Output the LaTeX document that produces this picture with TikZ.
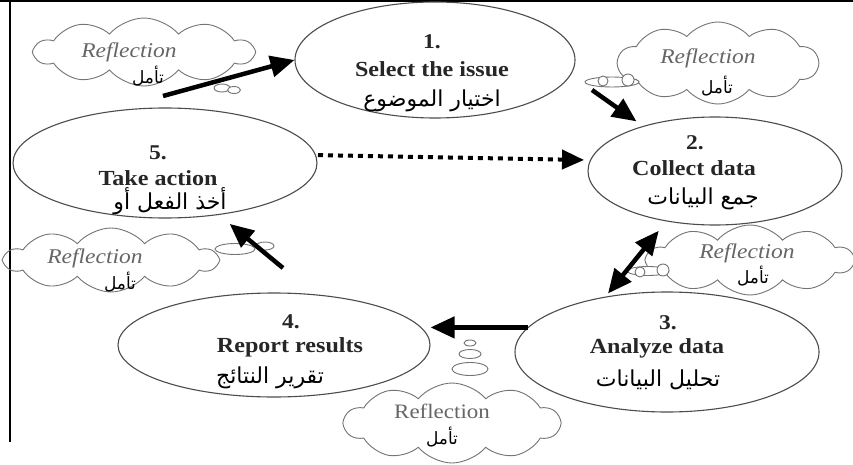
\documentclass[tikz,border=0pt]{standalone}
\usepackage{fontspec}
\setmainfont{Liberation Serif}[FakeStretch=1.12]
\newfontfamily\ar[Script=Arabic]{DejaVu Sans}
\TeXXeTstate=1
\usetikzlibrary{shapes.geometric,shapes.symbols,arrows.meta}
\begin{document}
\begin{tikzpicture}[x=1pt,y=-1pt,
  stage/.style={ellipse, draw=black!70, line width=1.1pt, inner sep=0pt},
  num/.style={font=\fontsize{21}{23}\selectfont\bfseries, text=black!85, inner sep=0pt},
  ttl/.style={font=\fontsize{21.5}{23}\selectfont\bfseries, text=black!85, inner sep=0pt},
  arb/.style={font=\ar\fontsize{22}{24}\selectfont, text=black, inner sep=0pt},
  arbs/.style={font=\ar\fontsize{17}{20}\selectfont, text=black, inner sep=0pt},
  thought/.style={cloud, cloud puffs=10, cloud puff arc=100, cloud ignores aspect, draw=black!55, line width=0.9pt, inner sep=0pt},
  bub/.style={ellipse, draw=black!55, line width=0.9pt, fill=white, inner sep=0pt},
  refl/.style={font=\fontsize{21}{23}\selectfont\itshape, text=black!60, inner sep=0pt},
  reflup/.style={font=\fontsize{20.5}{23}\selectfont, text=black!60, inner sep=0pt},
  arr/.style={line width=4.5pt, black, -{Triangle[length=24pt,width=21pt]}},
  darr/.style={line width=4.5pt, black, {Triangle[length=24pt,width=21pt]}-{Triangle[length=24pt,width=21pt]}},
  dotarr/.style={line width=4pt, black, dash pattern=on 5pt off 5pt, -{Triangle[length=22pt,width=19pt]}}]
\useasboundingbox (0,0) rectangle (853,465);
\fill[white] (0,0) rectangle (853,465);
% frame
\draw[line width=2pt] (0,1) -- (853,1);
\draw[line width=2pt] (10,0) -- (10,442);

% stages
\node[stage, minimum width=280pt, minimum height=116pt] (e1) at (435,60) {};
\node[stage, minimum width=254pt, minimum height=108pt] (e2) at (715,171) {};
\node[stage, minimum width=304pt, minimum height=120pt] (e3) at (667,352) {};
\node[stage, minimum width=312pt, minimum height=104pt] (e4) at (274,345) {};
\node[stage, minimum width=304pt, minimum height=110pt] (e5) at (165,163) {};

\node[num] (n1) at (432,42) {1.};
\node[ttl] (t1) at (432,69) {Select the issue};
\node[arb] (r1) at (432,101) {\beginR اختيار الموضوع\endR};

\node[num] (n2) at (695,143) {2.};
\node[ttl] (t2) at (694,168) {Collect data};
\node[arb] (r2) at (703,199) {\beginR جمع البيانات\endR};

\node[num] (n3) at (668,323) {3.};
\node[ttl] (t3) at (657,348) {Analyze data};
\node[arb] (r3) at (658,380) {\beginR تحليل البيانات\endR};

\node[num] (n4) at (291,322) {4.};
\node[ttl] (t4) at (290,347) {Report results};
\node[arb] (r4) at (270,378) {\beginR تقرير النتائج\endR};

\node[num] (n5) at (158,153) {5.};
\node[ttl] (t5) at (158,178) {Take action};
\node[arb] (r5) at (170,201) {\beginR أخذ الفعل أو\endR};

% clouds
\node[thought, minimum width=218pt, minimum height=68pt] (cA) at (144,52) {};
\node[thought, minimum width=200pt, minimum height=82pt] (cB) at (718,63) {};
\node[thought, minimum width=206pt, minimum height=70pt] (cC) at (750,260) {};
\node[thought, minimum width=212pt, minimum height=64pt] (cD) at (111,260) {};
\node[thought, minimum width=215pt, minimum height=80pt] (cE) at (452,423) {};

\node[refl] (fA) at (129,52) {Reflection};
\node[arbs] (aA) at (148,76) {\beginR تأمل\endR};
\node[refl] (fB) at (708,58) {Reflection};
\node[arbs] (aB) at (717,86) {\beginR تأمل\endR};
\node[refl] (fC) at (747,253) {Reflection};
\node[arbs] (aC) at (753,276) {\beginR تأمل\endR};
\node[refl] (fD) at (95,258) {Reflection};
\node[arbs] (aD) at (120,282) {\beginR تأمل\endR};
\node[reflup] (fE) at (442,411) {Reflection};
\node[arbs] (aE) at (442,437) {\beginR تأمل\endR};

% thought bubbles
\node[bub, minimum width=16pt, minimum height=8pt] (bA1) at (222,88) {};
\node[bub, minimum width=13pt, minimum height=7pt] (bA2) at (234,90) {};
\node[bub, minimum width=54pt, minimum height=10pt] (bB0) at (612,82) {};
\node[bub, minimum width=10pt, minimum height=10pt] (bB1) at (603,81) {};
\node[bub, minimum width=12pt, minimum height=12pt] (bB2) at (628,80) {};
\node[bub, minimum width=42pt, minimum height=9pt] (bC0) at (648,271) {};
\node[bub, minimum width=10pt, minimum height=10pt] (bC1) at (640,272) {};
\node[bub, minimum width=12pt, minimum height=12pt] (bC2) at (663,270) {};
\node[bub, minimum width=40pt, minimum height=11pt] (bD0) at (235,249) {};
\node[bub, minimum width=18pt, minimum height=8pt] (bD1) at (265,246) {};
\node[bub, minimum width=12pt, minimum height=6pt] (bE1) at (470,343) {};
\node[bub, minimum width=22pt, minimum height=9pt] (bE2) at (470,354) {};
\node[bub, minimum width=36pt, minimum height=13pt] (bE3) at (470,369) {};

% arrows
\coordinate (s1) at (163,96);
\coordinate (s2) at (592,90);
\coordinate (s6) at (283,268);
\draw[arr] (s1) -- (e1.west);
\draw[arr, shorten >=8pt] (s2) -- (e2.148);
\draw[dotarr, shorten <=2pt, shorten >=6pt] (e5.3) -- (e2.175);
\draw[darr, shorten <=4pt, shorten >=12pt] (e3.138) -- (e2.226);
\draw[arr] (e3.170) -- (e3.170 -| e4.east);
\draw[arr, shorten >=14pt] (s6) -- (e5.316);
\end{tikzpicture}
\end{document}
